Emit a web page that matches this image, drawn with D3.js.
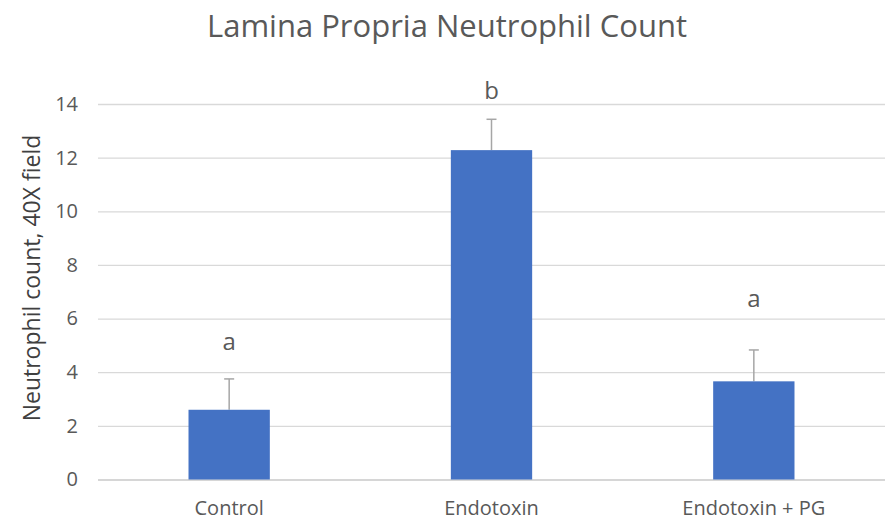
<!DOCTYPE html>
<html>
<head>
<meta charset="utf-8">
<script src="https://cdn.jsdelivr.net/npm/d3@7/dist/d3.min.js"></script>
<style>
  html, body { margin: 0; padding: 0; background: #fff; }
  svg { display: block; font-family: "Open Sans", "Liberation Sans", sans-serif; }
</style>
</head>
<body>
<svg id="chart" width="888" height="523"></svg>
<script>
// Mean neutrophil counts per 40X field with SEM, and significance-group letters
const categories = ["Control", "Endotoxin", "Endotoxin + PG"];
const means = [2.6, 12.28, 3.66];
const errors = [1.15, 1.15, 1.17];
const groupLetters = ["a", "b", "a"];
const letterLevels = [4.83, 14.19, 6.43];
const yTicks = [0, 2, 4, 6, 8, 10, 12, 14];

const svg = d3.select("#chart");
const margin = { left: 98, right: 3, top: 104, bottom: 43.5 };
const W = 888, H = 523;

const x = d3.scaleBand()
  .domain(categories)
  .range([margin.left, W - margin.right])
  .paddingInner(0.69)
  .paddingOuter(0.345);

const y = d3.scaleLinear()
  .domain([0, 14])
  .range([H - margin.bottom, margin.top]);

// Title
svg.append("text")
  .attr("x", 447).attr("y", 37)
  .attr("text-anchor", "middle")
  .attr("font-size", 31)
  .attr("fill", "#595959")
  .text("Lamina Propria Neutrophil Count");

// Horizontal gridlines and y tick labels
const yAxis = d3.axisLeft(y)
  .tickValues(yTicks)
  .tickSize(-(W - margin.right - margin.left))
  .tickPadding(20);
const gy = svg.append("g")
  .attr("transform", `translate(${margin.left},0)`)
  .call(yAxis);
gy.select(".domain").remove();
gy.selectAll(".tick line")
  .attr("stroke", d => d === 0 ? "#c8c8c8" : "#d9d9d9")
  .attr("stroke-width", 1.3);
gy.selectAll(".tick text")
  .attr("font-size", 20)
  .attr("fill", "#595959")
  .attr("font-family", "Open Sans, Liberation Sans, sans-serif");

// Y-axis title
svg.append("text")
  .attr("transform", "translate(40,278) rotate(-90)")
  .attr("text-anchor", "middle")
  .attr("font-size", 23)
  .attr("fill", "#404040")
  .text("Neutrophil count, 40X field");

// X axis category labels
const xAxis = d3.axisBottom(x).tickSize(0).tickPadding(21);
const gx = svg.append("g")
  .attr("transform", `translate(0,${y(0)})`)
  .call(xAxis);
gx.select(".domain").remove();
gx.selectAll(".tick text")
  .attr("font-size", 20)
  .attr("fill", "#595959")
  .attr("font-family", "Open Sans, Liberation Sans, sans-serif");

const rows = categories.map((c, i) => ({
  c, m: means[i], e: errors[i], letter: groupLetters[i], ly: letterLevels[i]
}));

// Error bars (upper half only) drawn behind the bars
const eb = svg.append("g").attr("stroke", "#a6a6a6").attr("stroke-width", 1.5);
rows.forEach(r => {
  const cx = x(r.c) + x.bandwidth() / 2;
  eb.append("line")
    .attr("x1", cx).attr("x2", cx)
    .attr("y1", y(r.m)).attr("y2", y(r.m + r.e));
  eb.append("line")
    .attr("x1", cx - 5).attr("x2", cx + 5)
    .attr("y1", y(r.m + r.e)).attr("y2", y(r.m + r.e));
});

// Bars
svg.append("g")
  .selectAll("rect")
  .data(rows)
  .join("rect")
  .attr("x", d => x(d.c))
  .attr("width", x.bandwidth())
  .attr("y", d => y(d.m))
  .attr("height", d => y(0) - y(d.m))
  .attr("fill", "#4472c4");

// Significance letters
svg.append("g")
  .selectAll("text")
  .data(rows)
  .join("text")
  .attr("x", d => x(d.c) + x.bandwidth() / 2)
  .attr("y", d => y(d.ly))
  .attr("text-anchor", "middle")
  .attr("font-size", 24)
  .attr("fill", "#595959")
  .text(d => d.letter);
</script>
</body>
</html>
